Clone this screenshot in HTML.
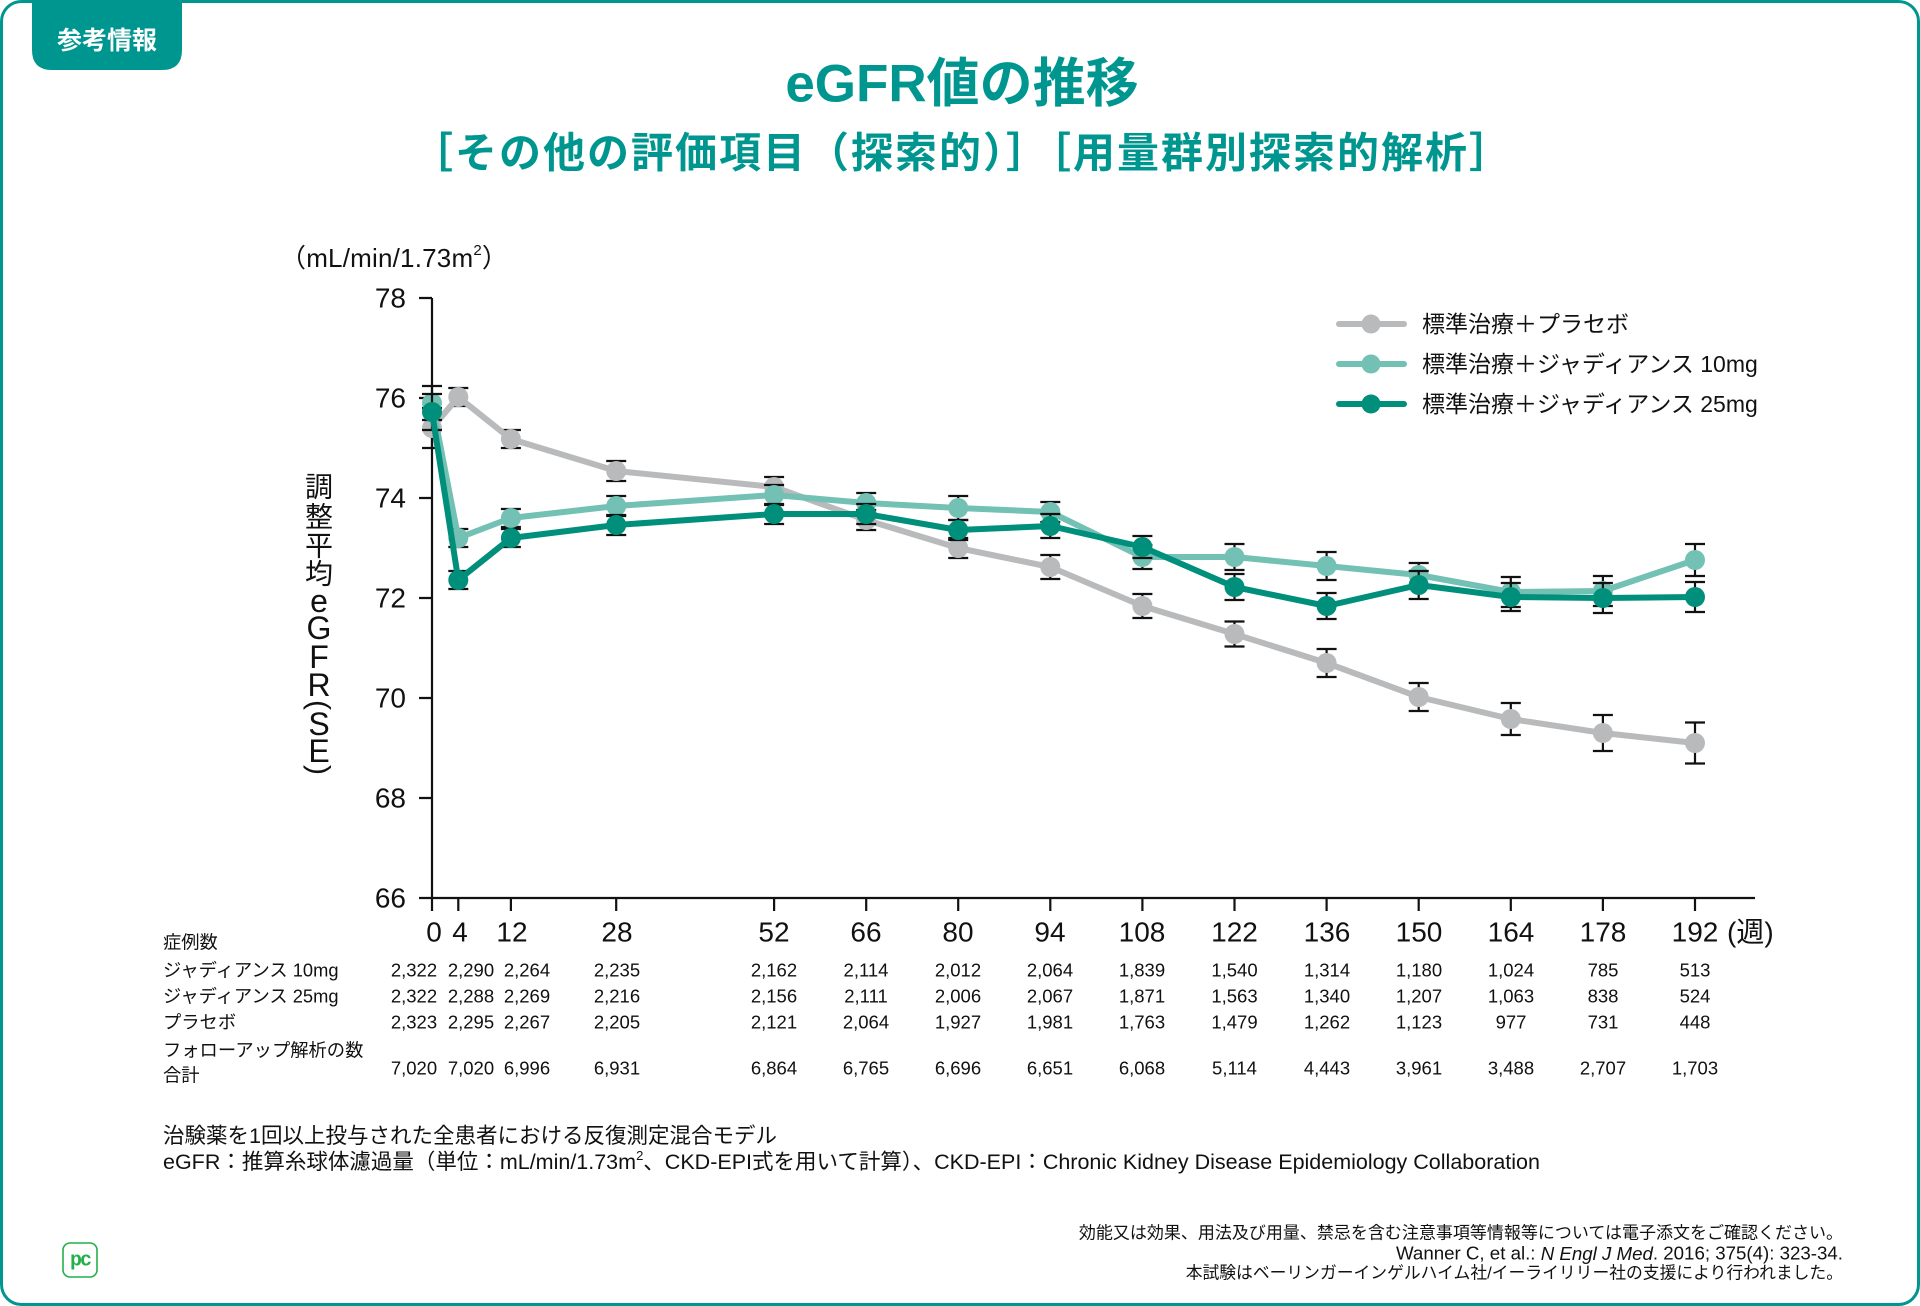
<!DOCTYPE html>
<html><head><meta charset="utf-8"><style>
html,body{margin:0;padding:0;background:#fff;}
svg{display:block;}
text{font-family:"Liberation Sans","Noto Sans CJK JP",sans-serif;}
</style></head><body>
<svg width="1920" height="1306" viewBox="0 0 1920 1306" xmlns="http://www.w3.org/2000/svg">
<rect x="1.5" y="1.5" width="1917" height="1303" rx="20" ry="20" fill="#fff" stroke="#009690" stroke-width="3"/>
<path d="M32 0H182V50Q182 70 162 70H52Q32 70 32 50Z" fill="#009690"/>
<text x="107" y="41" font-size="25" font-weight="bold" fill="#fff" text-anchor="middle" dominant-baseline="central">参考情報</text>
<text x="962" y="84" font-size="53" font-weight="bold" fill="#009690" text-anchor="middle" dominant-baseline="central">eGFR値の推移</text>
<text x="962" y="153" font-size="42" font-weight="bold" fill="#009690" text-anchor="middle" dominant-baseline="central" letter-spacing="2">［その他の評価項目（探索的）］［用量群別探索的解析］</text>

<!-- unit -->
<text x="280" y="258" font-size="26" fill="#111" dominant-baseline="central" letter-spacing="0.2">（mL/min/1.73m<tspan font-size="15" dy="-8">2</tspan><tspan dy="8">）</tspan></text>

<!-- y label vertical -->
<g fill="#111" text-anchor="middle" dominant-baseline="central">
<text x="319" y="487" font-size="28">調</text>
<text x="319" y="517" font-size="28">整</text>
<text x="319" y="546" font-size="28">平</text>
<text x="319" y="574" font-size="28">均</text>
<text x="319" y="601" font-size="32">e</text>
<text x="319" y="628" font-size="32">G</text>
<text x="319" y="657" font-size="32">F</text>
<text x="319" y="685" font-size="32">R</text>
<text transform="translate(319,705) rotate(90)" font-size="30">(</text>
<text x="319" y="724" font-size="32">S</text>
<text x="319" y="751" font-size="32">E</text>
<text transform="translate(319,770) rotate(90)" font-size="30">)</text>
</g>

<!-- axes -->
<g stroke="#111" stroke-width="2.2" fill="none">
<path d="M432 298V911M432 898H1755"/>
<path d="M419 298H432M419 398H432M419 498H432M419 598H432M419 698H432M419 798H432M419 898H432"/>
<path d="M458.3 898V911M510.9 898V911M616.2 898V911M774.1 898V911M866.2 898V911M958.2 898V911M1050.3 898V911M1142.4 898V911M1234.5 898V911M1326.6 898V911M1418.7 898V911M1510.8 898V911M1602.9 898V911M1695 898V911"/>
</g>
<g font-size="28" fill="#111" text-anchor="end" dominant-baseline="central">
<text x="406" y="298">78</text><text x="406" y="398">76</text><text x="406" y="498">74</text><text x="406" y="598">72</text><text x="406" y="698">70</text><text x="406" y="798">68</text><text x="406" y="898">66</text>
</g>
<g font-size="28" fill="#111" text-anchor="middle" dominant-baseline="central">
<text x="434" y="932">0</text><text x="460" y="932">4</text><text x="512" y="932">12</text><text x="617" y="932">28</text><text x="774" y="932">52</text><text x="866" y="932">66</text><text x="958" y="932">80</text><text x="1050" y="932">94</text><text x="1142" y="932">108</text><text x="1234.5" y="932">122</text><text x="1327" y="932">136</text><text x="1419" y="932">150</text><text x="1511" y="932">164</text><text x="1603" y="932">178</text><text x="1695" y="932">192</text>
</g>
<text x="1727" y="932" font-size="28" fill="#111" dominant-baseline="central">(週)</text>

<!-- Placebo -->
<path d="M432 408V448M422 408H442M422 448H442M458.3 388V406M448.3 388H468.3M448.3 406H468.3M510.9 430V448M500.9 430H520.9M500.9 448H520.9M616.2 461V481M606.2 461H626.2M606.2 481H626.2M774.1 477V497M764.1 477H784.1M764.1 497H784.1M866.2 510V530M856.2 510H876.2M856.2 530H876.2M958.2 538V558M948.2 538H968.2M948.2 558H968.2M1050.3 555V579M1040.3 555H1060.3M1040.3 579H1060.3M1142.4 594V618M1132.4 594H1152.4M1132.4 618H1152.4M1234.5 621.5V646.5M1224.5 621.5H1244.5M1224.5 646.5H1244.5M1326.6 649V677M1316.6 649H1336.6M1316.6 677H1336.6M1418.7 683V711M1408.7 683H1428.7M1408.7 711H1428.7M1510.8 703V735M1500.8 703H1520.8M1500.8 735H1520.8M1602.9 715V751M1592.9 715H1612.9M1592.9 751H1612.9M1695 722.5V763.5M1685 722.5H1705M1685 763.5H1705" stroke="#111" stroke-width="2.2" fill="none"/>
<polyline points="432,428 458.3,397 510.9,439 616.2,471 774.1,487 866.2,520 958.2,548 1050.3,567 1142.4,606 1234.5,634 1326.6,663 1418.7,697 1510.8,719 1602.9,733 1695,743" fill="none" stroke="#b9babc" stroke-width="6" stroke-linejoin="round"/>
<g fill="#b9babc">
<circle cx="432" cy="428" r="10"/><circle cx="458.3" cy="397" r="10"/><circle cx="510.9" cy="439" r="10"/><circle cx="616.2" cy="471" r="10"/><circle cx="774.1" cy="487" r="10"/><circle cx="866.2" cy="520" r="10"/><circle cx="958.2" cy="548" r="10"/><circle cx="1050.3" cy="567" r="10"/><circle cx="1142.4" cy="606" r="10"/><circle cx="1234.5" cy="634" r="10"/><circle cx="1326.6" cy="663" r="10"/><circle cx="1418.7" cy="697" r="10"/><circle cx="1510.8" cy="719" r="10"/><circle cx="1602.9" cy="733" r="10"/><circle cx="1695" cy="743" r="10"/>
</g>

<!-- 10mg -->
<path d="M432 386V420M422 386H442M422 420H442M458.3 529V547M448.3 529H468.3M448.3 547H468.3M510.9 509V527M500.9 509H520.9M500.9 527H520.9M616.2 496V516M606.2 496H626.2M606.2 516H626.2M774.1 485V505M764.1 485H784.1M764.1 505H784.1M866.2 493V513M856.2 493H876.2M856.2 513H876.2M958.2 496V520M948.2 496H968.2M948.2 520H968.2M1050.3 502V522M1040.3 502H1060.3M1040.3 522H1060.3M1142.4 545V569M1132.4 545H1152.4M1132.4 569H1152.4M1234.5 544V570M1224.5 544H1244.5M1224.5 570H1244.5M1326.6 552V580M1316.6 552H1336.6M1316.6 580H1336.6M1418.7 563V587M1408.7 563H1428.7M1408.7 587H1428.7M1510.8 577V607M1500.8 577H1520.8M1500.8 607H1520.8M1602.9 576V606M1592.9 576H1612.9M1592.9 606H1612.9M1695 544V576M1685 544H1705M1685 576H1705" stroke="#111" stroke-width="2.2" fill="none"/>
<polyline points="432,403 458.3,538 510.9,518 616.2,506 774.1,495 866.2,503 958.2,508 1050.3,512 1142.4,557 1234.5,557 1326.6,566 1418.7,575 1510.8,592 1602.9,591 1695,560" fill="none" stroke="#73c1b4" stroke-width="6" stroke-linejoin="round"/>
<g fill="#73c1b4">
<circle cx="432" cy="403" r="10"/><circle cx="458.3" cy="538" r="10"/><circle cx="510.9" cy="518" r="10"/><circle cx="616.2" cy="506" r="10"/><circle cx="774.1" cy="495" r="10"/><circle cx="866.2" cy="503" r="10"/><circle cx="958.2" cy="508" r="10"/><circle cx="1050.3" cy="512" r="10"/><circle cx="1142.4" cy="557" r="10"/><circle cx="1234.5" cy="557" r="10"/><circle cx="1326.6" cy="566" r="10"/><circle cx="1418.7" cy="575" r="10"/><circle cx="1510.8" cy="592" r="10"/><circle cx="1602.9" cy="591" r="10"/><circle cx="1695" cy="560" r="10"/>
</g>

<!-- 25mg -->
<path d="M432 394V430M422 394H442M422 430H442M458.3 571V589M448.3 571H468.3M448.3 589H468.3M510.9 529V547M500.9 529H520.9M500.9 547H520.9M616.2 515V535M606.2 515H626.2M606.2 535H626.2M774.1 504V524M764.1 504H784.1M764.1 524H784.1M866.2 504V524M856.2 504H876.2M856.2 524H876.2M958.2 520V540M948.2 520H968.2M948.2 540H968.2M1050.3 514V538M1040.3 514H1060.3M1040.3 538H1060.3M1142.4 536V558M1132.4 536H1152.4M1132.4 558H1152.4M1234.5 574V600M1224.5 574H1244.5M1224.5 600H1244.5M1326.6 593V619M1316.6 593H1336.6M1316.6 619H1336.6M1418.7 571V599M1408.7 571H1428.7M1408.7 599H1428.7M1510.8 583V611M1500.8 583H1520.8M1500.8 611H1520.8M1602.9 583V613M1592.9 583H1612.9M1592.9 613H1612.9M1695 582V612M1685 582H1705M1685 612H1705" stroke="#111" stroke-width="2.2" fill="none"/>
<polyline points="432,412 458.3,580 510.9,538 616.2,525 774.1,514 866.2,514 958.2,530 1050.3,526 1142.4,547 1234.5,587 1326.6,606 1418.7,585 1510.8,597 1602.9,598 1695,597" fill="none" stroke="#008f7b" stroke-width="6" stroke-linejoin="round"/>
<g fill="#008f7b">
<circle cx="432" cy="412" r="10"/><circle cx="458.3" cy="580" r="10"/><circle cx="510.9" cy="538" r="10"/><circle cx="616.2" cy="525" r="10"/><circle cx="774.1" cy="514" r="10"/><circle cx="866.2" cy="514" r="10"/><circle cx="958.2" cy="530" r="10"/><circle cx="1050.3" cy="526" r="10"/><circle cx="1142.4" cy="547" r="10"/><circle cx="1234.5" cy="587" r="10"/><circle cx="1326.6" cy="606" r="10"/><circle cx="1418.7" cy="585" r="10"/><circle cx="1510.8" cy="597" r="10"/><circle cx="1602.9" cy="598" r="10"/><circle cx="1695" cy="597" r="10"/>
</g>

<!-- legend -->
<g stroke-width="6" stroke-linecap="round">
<line x1="1339" y1="324" x2="1404" y2="324" stroke="#b9babc"/>
<line x1="1339" y1="364" x2="1404" y2="364" stroke="#73c1b4"/>
<line x1="1339" y1="404" x2="1404" y2="404" stroke="#008f7b"/>
</g>
<circle cx="1371" cy="324" r="9.5" fill="#b9babc"/>
<circle cx="1371" cy="364" r="9.5" fill="#73c1b4"/>
<circle cx="1371" cy="404" r="9.5" fill="#008f7b"/>
<g font-size="23" fill="#111" dominant-baseline="central">
<text x="1422" y="324">標準治療＋プラセボ</text>
<text x="1422" y="364">標準治療＋ジャディアンス 10mg</text>
<text x="1422" y="404">標準治療＋ジャディアンス 25mg</text>
</g>

<!-- table -->
<g font-size="18.3" fill="#111" dominant-baseline="central">
<text x="163" y="942">症例数</text>
<text x="163" y="970">ジャディアンス 10mg</text>
<text x="163" y="996">ジャディアンス 25mg</text>
<text x="163" y="1022">プラセボ</text>
<text x="163" y="1050">フォローアップ解析の数</text>
<text x="163" y="1075">合計</text>
</g>
<g font-size="18.5" fill="#111" text-anchor="middle" dominant-baseline="central">
<text x="414" y="970">2,322</text><text x="471" y="970">2,290</text><text x="527" y="970">2,264</text><text x="617" y="970">2,235</text><text x="774" y="970">2,162</text><text x="866" y="970">2,114</text><text x="958" y="970">2,012</text><text x="1050" y="970">2,064</text><text x="1142" y="970">1,839</text><text x="1234.5" y="970">1,540</text><text x="1327" y="970">1,314</text><text x="1419" y="970">1,180</text><text x="1511" y="970">1,024</text><text x="1603" y="970">785</text><text x="1695" y="970">513</text>
<text x="414" y="996">2,322</text><text x="471" y="996">2,288</text><text x="527" y="996">2,269</text><text x="617" y="996">2,216</text><text x="774" y="996">2,156</text><text x="866" y="996">2,111</text><text x="958" y="996">2,006</text><text x="1050" y="996">2,067</text><text x="1142" y="996">1,871</text><text x="1234.5" y="996">1,563</text><text x="1327" y="996">1,340</text><text x="1419" y="996">1,207</text><text x="1511" y="996">1,063</text><text x="1603" y="996">838</text><text x="1695" y="996">524</text>
<text x="414" y="1022">2,323</text><text x="471" y="1022">2,295</text><text x="527" y="1022">2,267</text><text x="617" y="1022">2,205</text><text x="774" y="1022">2,121</text><text x="866" y="1022">2,064</text><text x="958" y="1022">1,927</text><text x="1050" y="1022">1,981</text><text x="1142" y="1022">1,763</text><text x="1234.5" y="1022">1,479</text><text x="1327" y="1022">1,262</text><text x="1419" y="1022">1,123</text><text x="1511" y="1022">977</text><text x="1603" y="1022">731</text><text x="1695" y="1022">448</text>
<text x="414" y="1068">7,020</text><text x="471" y="1068">7,020</text><text x="527" y="1068">6,996</text><text x="617" y="1068">6,931</text><text x="774" y="1068">6,864</text><text x="866" y="1068">6,765</text><text x="958" y="1068">6,696</text><text x="1050" y="1068">6,651</text><text x="1142" y="1068">6,068</text><text x="1234.5" y="1068">5,114</text><text x="1327" y="1068">4,443</text><text x="1419" y="1068">3,961</text><text x="1511" y="1068">3,488</text><text x="1603" y="1068">2,707</text><text x="1695" y="1068">1,703</text>
</g>

<!-- footnotes -->
<g font-size="21.5" fill="#111" dominant-baseline="central">
<text x="163" y="1136">治験薬を1回以上投与された全患者における反復測定混合モデル</text>
<text x="163" y="1162">eGFR：推算糸球体濾過量（単位：mL/min/1.73m<tspan font-size="13" dy="-7">2</tspan><tspan dy="7">、CKD-EPI式を用いて計算）、CKD-EPI：Chronic Kidney Disease Epidemiology Collaboration</tspan></text>
</g>
<g fill="#111" text-anchor="end" dominant-baseline="central">
<text x="1843" y="1233" font-size="17">効能又は効果、用法及び用量、禁忌を含む注意事項等情報等については電子添文をご確認ください。</text>
<text x="1843" y="1253" font-size="18.7">Wanner C, et al.: <tspan font-style="italic">N Engl J Med</tspan>. 2016; 375(4): 323-34.</text>
<text x="1843" y="1273" font-size="16.8">本試験はベーリンガーインゲルハイム社/イーライリリー社の支援により行われました。</text>
</g>

<!-- logo -->
<rect x="63" y="1243" width="34" height="34" rx="7" ry="7" fill="none" stroke="#22b04b" stroke-width="1.6"/>
<text x="80" y="1261" font-size="20" font-weight="bold" fill="#22b04b" text-anchor="middle" dominant-baseline="central" style="font-family:'Liberation Mono',monospace;letter-spacing:-2px">pc</text>
</svg>
</body></html>
